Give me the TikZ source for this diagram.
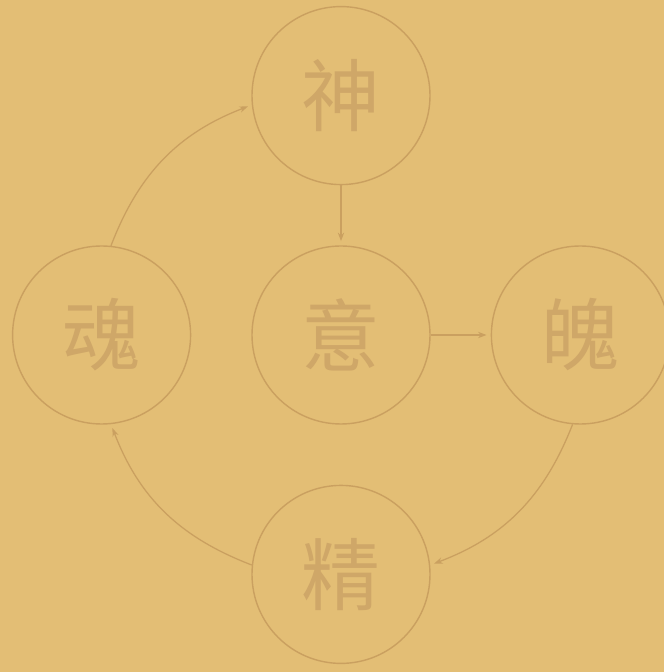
\documentclass[tikz,border=0pt]{standalone}
\usepackage{fontspec}
\newfontfamily\cjk{Noto Sans CJK SC}
\usetikzlibrary{positioning, arrows.meta}

\definecolor{paper}{RGB}{227,190,117}
\definecolor{ink}{RGB}{202,160,96}
\definecolor{glyph}{RGB}{207,167,104}

\begin{document}
\begin{tikzpicture}[
  spirit/.style={circle, draw=ink, line width=1pt, minimum size=4.45cm, inner sep=0pt,
    text=glyph, font=\cjk\fontsize{56}{60}\selectfont},
  flow/.style={draw=ink, line width=0.9pt, -{Stealth[length=6pt, width=4.5pt]}, shorten >=3pt},
  node distance=1.5cm,
]

% paper background
\fill[paper] (0,0) rectangle (16.6,16.8);
\useasboundingbox (0,0) rectangle (16.6,16.8);

% the five circles
\node[spirit] (yi) at (8.525,8.425) {意};
\node[spirit, above=of yi] (shen) {神};
\node[spirit, left=of yi] (hun) {魂};
\node[spirit, right=of yi] (po) {魄};
\node[spirit, below=of yi] (jing) {精};

% straight arrows
\draw[flow] (shen) -- (yi);
\draw[flow] (yi) -- (po);

% outer ring
\draw[flow] (hun.84) to[bend left=24] (shen.186);
\draw[flow] (po.265) to[bend left=24] (jing.6);
\draw[flow] (jing.174) to[bend left=24] (hun.276);

\end{tikzpicture}
\end{document}
